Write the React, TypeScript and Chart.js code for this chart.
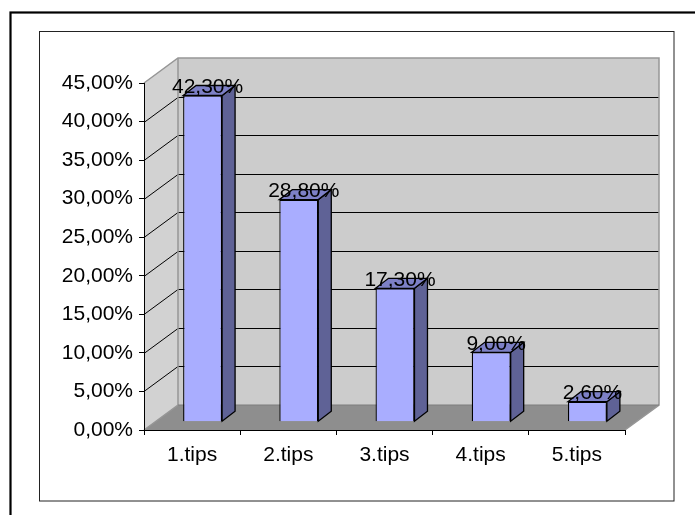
import React, { useEffect, useRef } from "react";
import { Chart, registerables } from "chart.js";

Chart.register(...registerables);

const categories = ["1.tips", "2.tips", "3.tips", "4.tips", "5.tips"];
const shareValues = [42.3, 28.8, 17.3, 9.0, 2.6];
const shareLabels = ["42,30%", "28,80%", "17,30%", "9,00%", "2,60%"];
const yTickValues = [0, 5, 10, 15, 20, 25, 30, 35, 40, 45];
const yTickLabels = ["0,00%", "5,00%", "10,00%", "15,00%", "20,00%", "25,00%", "30,00%", "35,00%", "40,00%", "45,00%"];

const FONT = '"Liberation Sans", Arial, sans-serif';
const WALL = { dx: 34, dy: -25 };
const BAR_SHIFT = { dx: 10.5, dy: -8.3 };
const BAR_DEPTH = { dx: 13, dy: -10 };

function poly(ctx: CanvasRenderingContext2D, pts: number[][], fill?: string, stroke?: string, lw = 1) {
  ctx.beginPath();
  pts.forEach((p, i) => (i ? ctx.lineTo(p[0], p[1]) : ctx.moveTo(p[0], p[1])));
  if (fill) {
    ctx.closePath();
    ctx.fillStyle = fill;
    ctx.fill();
  }
  if (stroke) {
    ctx.strokeStyle = stroke;
    ctx.lineWidth = lw;
    ctx.stroke();
  }
}

const threeD = {
  id: "threeD",
  beforeDraw(chart: any) {
    const { ctx, chartArea: a, scales } = chart;
    const y = scales.y;
    ctx.save();
    ctx.fillStyle = "#ffffff";
    ctx.fillRect(0, 0, chart.width, chart.height);
    ctx.strokeStyle = "#000";
    ctx.lineWidth = 2.2;
    ctx.strokeRect(10.5, 12.5, 720, 540);
    ctx.lineWidth = 1;
    ctx.strokeStyle = "#222";
    ctx.strokeRect(39.5, 31.5, 634.5, 469.5);

    const { dx, dy } = WALL;
    const l = a.left, r = a.right, t = a.top, b = a.bottom;
    poly(ctx, [[l + dx, t + dy], [r + dx, t + dy], [r + dx, b + dy], [l + dx, b + dy]], "#cccccc");
    poly(ctx, [[l, t], [l + dx, t + dy], [l + dx, b + dy], [l, b]], "#d2d2d2");
    poly(ctx, [[l, b], [r, b], [r + dx, b + dy], [l + dx, b + dy]], "#8e8e8e");

    yTickValues.slice(1, -1).forEach((v) => {
      const py = Math.round(y.getPixelForValue(v)) + 0.5;
      poly(ctx, [[l, py], [l + dx, py + dy], [r + dx, py + dy]], undefined, "#000", 1);
    });
    const edge = "#969696";
    poly(ctx, [[l, t], [l + dx, t + dy], [r + dx, t + dy], [r + dx, b + dy], [r, b]], undefined, edge, 1.5);
    poly(ctx, [[l + dx, t + dy], [l + dx, b + dy], [l, b]], undefined, edge, 1.5);
    poly(ctx, [[l + dx, b + dy], [r + dx, b + dy]], undefined, "#7c7c7c", 1);
    ctx.restore();
  },
  beforeDatasetsDraw(chart: any) {
    const { ctx } = chart;
    ctx.save();
    ctx.translate(BAR_SHIFT.dx, BAR_SHIFT.dy);
    const d = BAR_DEPTH;
    chart.getDatasetMeta(0).data.forEach((el: any) => {
      const { x, y, base, width } = el.getProps(["x", "y", "base", "width"], true);
      const L = x - width / 2, R = x + width / 2;
      poly(ctx, [[R, y], [R + d.dx, y + d.dy], [R + d.dx, base + d.dy], [R, base]], "#5f6296", "#000", 1.3);
      poly(ctx, [[L, y], [L + d.dx, y + d.dy], [R + d.dx, y + d.dy], [R, y]], "#7d80c6", "#000", 1.3);
    });
    ctx.restore();
    ctx.save();
    ctx.translate(BAR_SHIFT.dx, BAR_SHIFT.dy);
  },
  afterDatasetsDraw(chart: any) {
    const { ctx } = chart;
    ctx.restore();
    ctx.save();
    ctx.fillStyle = "#000";
    ctx.font = `21px ${FONT}`;
    ctx.textAlign = "center";
    ctx.textBaseline = "middle";
    chart.getDatasetMeta(0).data.forEach((el: any, i: number) => {
      const { x, y } = el.getProps(["x", "y"], true);
      ctx.fillText(shareLabels[i], x + BAR_SHIFT.dx + 5, y + BAR_SHIFT.dy - 8.5);
    });
    ctx.restore();
  },
};

export default function App() {
  const ref = useRef<HTMLCanvasElement>(null);
  useEffect(() => {
    const chart = new Chart(ref.current!, {
      type: "bar",
      data: {
        labels: categories,
        datasets: [
          {
            data: shareValues,
            backgroundColor: "#a9adff",
            borderColor: "#000",
            borderWidth: 1.3,
            barPercentage: 0.405,
            categoryPercentage: 1,
            clip: false,
          } as any,
        ],
      },
      options: {
        responsive: false,
        animation: false,
        devicePixelRatio: 1,
        layout: { padding: { left: 0, top: 83, right: 70, bottom: 0 } },
        plugins: { legend: { display: false }, tooltip: { enabled: false } },
        scales: {
          x: {
            afterFit: (s: any) => { s.height = 85; },
            grid: { drawOnChartArea: false, color: "#000", tickLength: 5, offset: true },
            border: { color: "#000", width: 1 },
            ticks: { color: "#000", font: { family: FONT, size: 21 }, padding: 8, maxRotation: 0 },
          },
          y: {
            min: 0,
            max: 45,
            afterFit: (s: any) => { s.width = 144; },
            afterBuildTicks: (s: any) => { s.ticks = yTickValues.map((value) => ({ value })); },
            grid: { drawOnChartArea: false, color: "#000", tickLength: 5 },
            border: { color: "#000", width: 1 },
            ticks: {
              color: "#000",
              font: { family: FONT, size: 21 },
              padding: 6,
              callback: (v: any) => yTickLabels[yTickValues.indexOf(Number(v))],
            },
          },
        },
      },
      plugins: [threeD],
    } as any);
    return () => chart.destroy();
  }, []);
  return (
    <div style={{ position: "fixed", left: 0, top: 0 }}>
      <canvas ref={ref} width={695} height={515} style={{ display: "block" }} />
    </div>
  );
}
